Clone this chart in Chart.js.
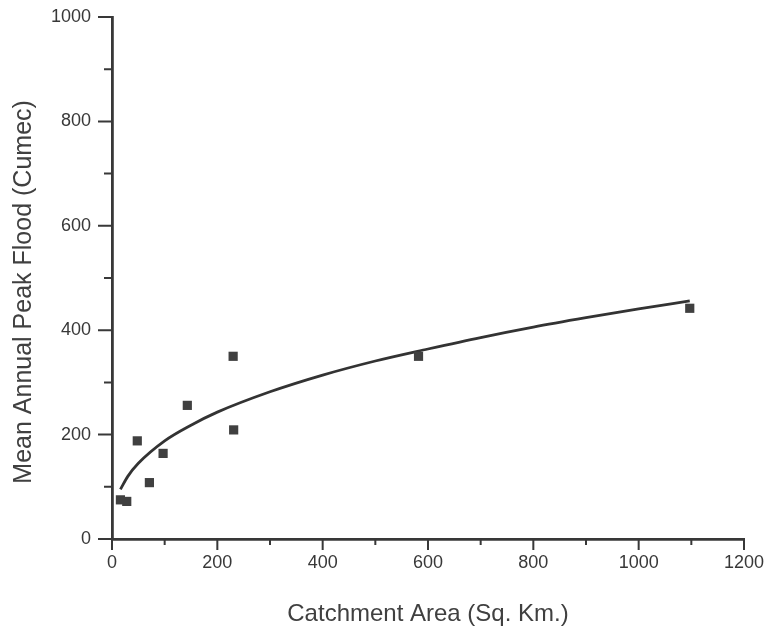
<!DOCTYPE html>
<html>
<head>
<meta charset="utf-8">
<title>Mean Annual Peak Flood vs Catchment Area</title>
<script src="https://cdn.jsdelivr.net/npm/chart.js@4"></script>
<style>
  html, body { margin: 0; padding: 0; background: #fff; }
  #wrap { width: 771px; height: 635px; }
</style>
</head>
<body>
<div id="wrap"><canvas id="floodChart" width="771" height="635"></canvas></div>
<script>
// observed stations
const areas  = [16, 28, 48, 71, 97, 143, 230, 231, 582, 1097];
const floods = [75, 72, 188, 108, 164, 256, 350, 209, 350, 442];

// fitted curve
const curveAreas  = [16, 30, 50, 100, 150, 200, 300, 400, 500, 600, 700, 800, 900, 1000, 1097];
const curveFloods = [95, 120, 145, 188, 218, 243, 282, 314, 341, 364, 386, 406, 424, 441, 456];

const xTicks = [0, 200, 400, 600, 800, 1000, 1200];
const yTicks = [0, 200, 400, 600, 800, 1000];

const INK = '#383838';
const FONT = '"Liberation Sans", Arial, sans-serif';

// outward tick marks: long at labelled values, short in between
const tickMarks = {
  id: 'tickMarks',
  afterDraw(chart) {
    const { ctx, scales: { x, y } } = chart;
    ctx.save();
    ctx.strokeStyle = INK;
    ctx.lineWidth = 2;
    ctx.beginPath();
    x.ticks.forEach(t => {
      const px = x.getPixelForValue(t.value);
      const len = xTicks.includes(t.value) ? 11 : 6;
      ctx.moveTo(px, x.top);
      ctx.lineTo(px, x.top + len);
    });
    y.ticks.forEach(t => {
      const py = y.getPixelForValue(t.value);
      const len = yTicks.includes(t.value) ? 14 : 8;
      ctx.moveTo(y.right, py);
      ctx.lineTo(y.right - len, py);
    });
    ctx.stroke();
    ctx.restore();
  }
};

new Chart(document.getElementById('floodChart').getContext('2d'), {
  type: 'scatter',
  data: {
    datasets: [
      {
        label: 'Observed',
        data: areas.map((a, i) => ({ x: a, y: floods[i] })),
        pointStyle: 'rect',
        pointRadius: 6.5,
        backgroundColor: '#404040',
        borderWidth: 0
      },
      {
        type: 'line',
        label: 'Fit',
        data: curveAreas.map((a, i) => ({ x: a, y: curveFloods[i] })),
        borderColor: '#333',
        borderWidth: 2.8,
        pointRadius: 0,
        fill: false,
        cubicInterpolationMode: 'monotone'
      }
    ]
  },
  options: {
    responsive: false,
    animation: false,
    layout: { padding: { left: 0, right: 27, top: 17, bottom: 0 } },
    plugins: { legend: { display: false }, tooltip: { enabled: false } },
    scales: {
      x: {
        type: 'linear',
        min: 0, max: 1200,
        afterFit: s => { s.height = 96; },
        ticks: {
          stepSize: 100,
          autoSkip: false,
          maxRotation: 0,
          padding: 0,
          color: INK,
          font: { family: FONT, size: 18 },
          callback: v => xTicks.includes(v) ? String(v) : ''
        },
        // invisible built-in ticks only space the labels; real marks come from tickMarks
        grid: { display: true, drawOnChartArea: false, drawTicks: true, tickLength: 13, tickColor: 'rgba(0,0,0,0)' },
        border: { display: true, color: INK, width: 2.8 },
        title: {
          display: true,
          text: 'Catchment Area (Sq. Km.)',
          color: '#404040',
          font: { family: FONT, size: 24 },
          padding: { top: 0, bottom: 6 }
        }
      },
      y: {
        type: 'linear',
        min: 0, max: 1000,
        afterFit: s => { s.width = 112; },
        ticks: {
          stepSize: 100,
          autoSkip: false,
          padding: 0,
          color: INK,
          font: { family: FONT, size: 18 },
          callback: v => yTicks.includes(v) ? String(v) : ''
        },
        grid: { display: true, drawOnChartArea: false, drawTicks: true, tickLength: 21, tickColor: 'rgba(0,0,0,0)' },
        border: { display: true, color: INK, width: 2.8 },
        title: {
          display: true,
          // trailing spaces push the words down a little, as in the scan
          text: 'Mean Annual Peak Flood (Cumec)    ',
          color: '#404040',
          font: { family: FONT, size: 25 },
          padding: { top: 9, bottom: 0 }
        }
      }
    }
  },
  plugins: [tickMarks]
});
</script>
</body>
</html>
